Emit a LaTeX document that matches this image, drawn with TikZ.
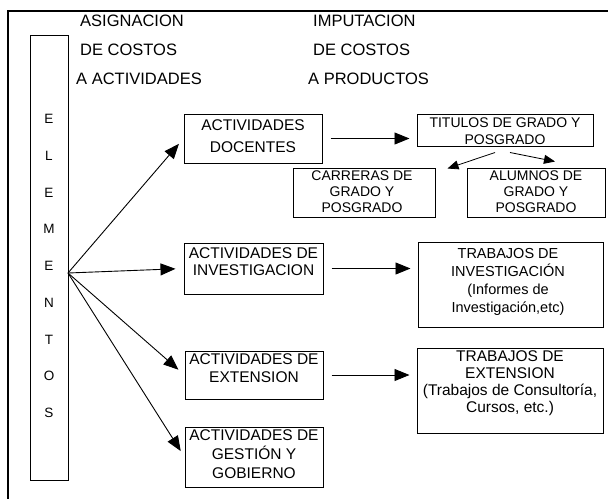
\documentclass[tikz,border=0pt]{standalone}
\usepackage{fontspec}
\setmainfont{Liberation Sans}
\usetikzlibrary{arrows.meta,calc}
\begin{document}
\begin{tikzpicture}[x=1pt,y=-1pt,
  box/.style={draw, line width=1pt, inner sep=0pt},
  txt/.style={align=center, inner sep=0pt},
  hdr/.style={align=left, inner sep=0pt, anchor=west, font=\fontsize{16.5}{29}\selectfont},
  arr/.style={-{Triangle[length=15pt,width=12pt]}, line width=0.9pt},
  sarr/.style={-{Triangle[length=11pt,width=9pt]}, line width=0.8pt}]
\useasboundingbox (0,0) rectangle (608,499);
% frame
\draw[line width=1.3pt] (608,11) -- (8,11) -- (8,499);
% headers
\node[hdr] (h1) at (80,50) {ASIGNACION\\DE COSTOS\\\hspace*{-4pt}A ACTIVIDADES};
\node[hdr] (h2) at (313,50) {IMPUTACION\\DE COSTOS\\\hspace*{-5pt}A PRODUCTOS};
% elementos
\node[box, minimum width=38pt, minimum height=445pt] (EL) at (49,257.5) {};
\node[txt, font=\fontsize{13.5}{36.75}\selectfont] (ELt) at (49,266) {E\\L\\E\\M\\E\\N\\T\\O\\S};
\coordinate (fan) at (68,273);
% activity boxes
\node[box, minimum width=138pt, minimum height=49pt] (A) at (253,138.5) {};
\node[txt, font=\fontsize{15.5}{22}\selectfont] (At) at (253,136) {ACTIVIDADES\\DOCENTES};
\node[box, minimum width=139pt, minimum height=51pt] (I) at (253.5,268.5) {};
\node[txt, font=\fontsize{15.5}{17}\selectfont] (It) at (253.5,261.5) {ACTIVIDADES DE\\INVESTIGACION};
\node[box, minimum width=138pt, minimum height=48pt] (E) at (254,375) {};
\node[txt, font=\fontsize{15.5}{18}\selectfont] (Et) at (254,368) {ACTIVIDADES DE\\EXTENSION};
\node[box, minimum width=138pt, minimum height=60pt] (G) at (254,457) {};
\node[txt, font=\fontsize{15.5}{19}\selectfont] (Gt) at (254,454) {ACTIVIDADES DE\\GESTIÓN Y\\GOBIERNO};
% product boxes
\node[box, minimum width=176pt, minimum height=32pt] (T) at (505,130) {};
\node[txt, font=\fontsize{14}{17}\selectfont] (Tt) at (505,131.5) {TITULOS DE GRADO Y\\POSGRADO};
\node[box, minimum width=142pt, minimum height=49pt] (C) at (364,192.5) {};
\node[txt, font=\fontsize{14}{16}\selectfont] (Ct) at (362,192) {CARRERAS DE\\GRADO Y\\POSGRADO};
\node[box, minimum width=138pt, minimum height=49pt] (Al) at (536,192.5) {};
\node[txt, font=\fontsize{14}{16}\selectfont] (Alt) at (536,192) {ALUMNOS DE\\GRADO Y\\POSGRADO};
\node[box, minimum width=185pt, minimum height=85pt] (TI) at (510.5,284.5) {};
\node[txt, font=\fontsize{14.5}{18}\selectfont] (TIt) at (508,281.5) {TRABAJOS DE\\INVESTIGACIÓN\\(Informes de\\Investigación,etc)};
\node[box, minimum width=186pt, minimum height=85pt] (TE) at (510,390.5) {};
\node[txt, font=\fontsize{15.5}{17}\selectfont] (TEt) at (510,383) {TRABAJOS DE\\EXTENSION\\(Trabajos de Consultoría,\\Cursos, etc.)};
% fan arrows
\draw[arr, shorten >=7pt] (fan) -- (A.west);
\draw[arr, shorten >=8pt] (fan) -- (I.west);
\draw[arr, shorten >=8pt] (fan) -- (E.west);
\draw[arr, shorten >=7pt] (fan) -- (G.west);
% horizontal arrows
\draw[arr, shorten <=8pt, shorten >=7pt] (A.east) -- (A.east -| T.west);
\draw[arr, shorten <=8pt, shorten >=7pt] (I.east) -- (I.east -| TI.west);
\draw[arr, shorten <=8pt, shorten >=7pt] (E.east) -- (E.east -| TE.west);
% title arrows
\draw[sarr] ($(T.south)+(-10,6)$) -- ($(C.north east)+(12,1)$);
\draw[sarr] ($(T.south)+(5,6)$) -- ($(Al.north)+(19,-6)$);
\end{tikzpicture}
\end{document}
